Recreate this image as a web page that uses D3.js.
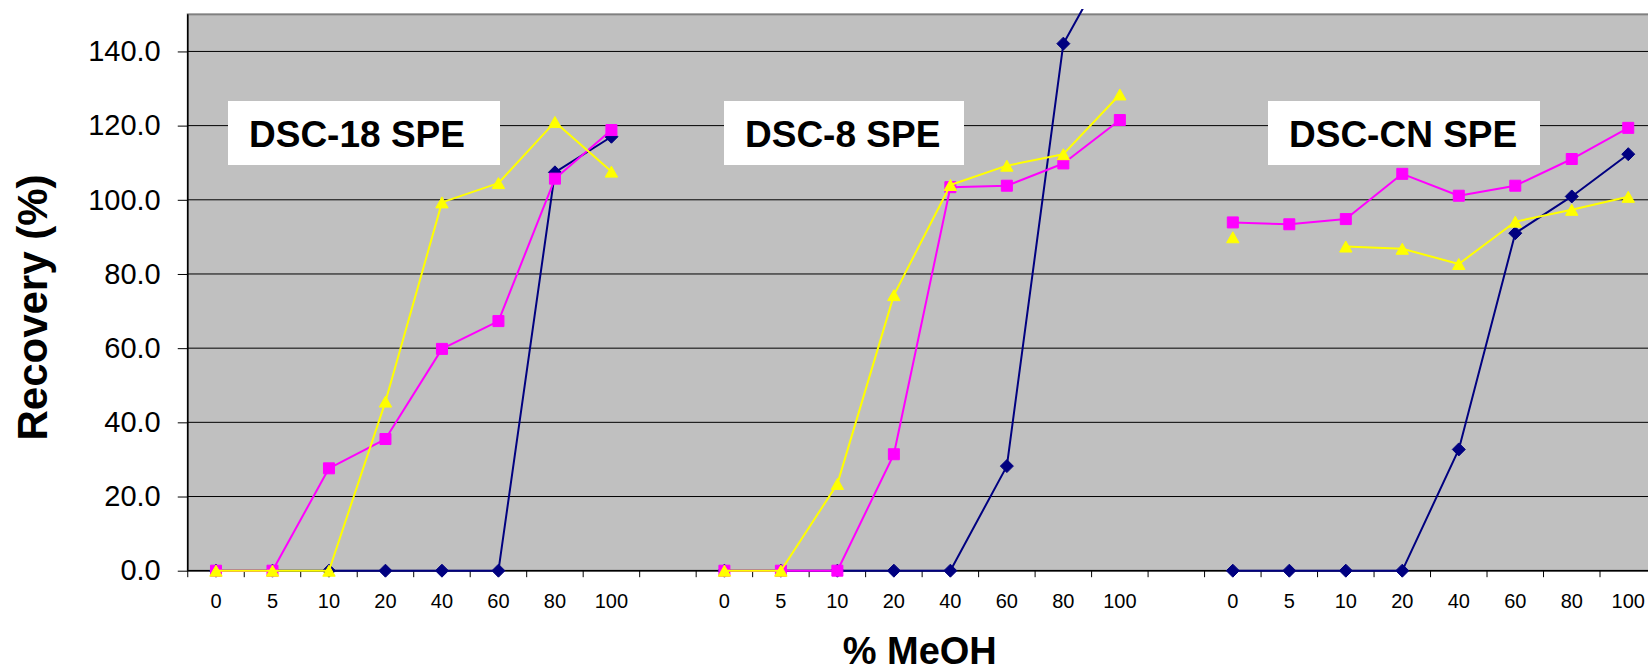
<!DOCTYPE html>
<html>
<head>
<meta charset="utf-8">
<script src="https://cdn.jsdelivr.net/npm/d3@7"></script>
<style>
  html, body { margin: 0; padding: 0; background: #fff; }
  svg { display: block; font-family: "Liberation Sans", Arial, sans-serif; }
</style>
</head>
<body>
<svg id="chart" width="1648" height="671"></svg>
<script>
// ---------- data ----------
const groups = ["DSC-18 SPE", "DSC-8 SPE", "DSC-CN SPE"];
const categories = ["0", "5", "10", "20", "40", "60", "80", "100"];
const yTicks = [0, 20, 40, 60, 80, 100, 120, 140];

// series 1 (navy diamonds)
const navyDSC18 = [0, 0, 0, 0, 0, 0, 107.4, 117.0];
const navyDSC8  = [0, 0, 0, 0, 0, 28.2, 142.1, 169.5];
const navyDSCCN = [0, 0, 0, 0, 32.7, 91.0, 100.9, 112.3];
// series 2 (magenta squares)
const magDSC18 = [0, 0, 27.6, 35.5, 59.8, 67.3, 105.7, 118.8];
const magDSC8  = [0, 0, 0, 31.4, 103.4, 103.8, 109.8, 121.5];
const magDSCCN = [93.9, 93.4, 94.8, 107.0, 101.1, 103.8, 111.0, 119.4];
// series 3 (yellow triangles)
const yelDSC18 = [0, 0, 0, 45.6, 99.3, 104.5, 121.0, 107.6];
const yelDSC8  = [0, 0, 23.4, 74.3, 104.0, 109.2, 112.3, 128.4];
const yelDSCCN = [89.9, null, 87.4, 86.8, 82.7, 94.1, 97.3, 100.8];

const seriesDefs = [
  { color: "#000080", marker: "diamond", groups: [navyDSC18, navyDSC8, navyDSCCN] },
  { color: "#FF00FF", marker: "square",  groups: [magDSC18, magDSC8, magDSCCN] },
  { color: "#FFFF00", marker: "triangle", groups: [yelDSC18, yelDSC8, yelDSCCN] }
];

// ---------- layout ----------
const svg = d3.select("#chart");
const plot = { left: 187.75, right: 1656.5, top: 14.35, bottom: 570.7 };

// category slots: 8 per group with one empty slot between groups
const slots = [];
groups.forEach((g, gi) => {
  categories.forEach((c, ci) => slots.push({ id: gi + "-" + ci, label: c }));
  if (gi < groups.length - 1) slots.push({ id: "gap" + gi, label: "" });
});

const x = d3.scaleBand().domain(slots.map(s => s.id)).range([plot.left, plot.right]).padding(0);
const y = d3.scaleLinear().domain([0, 150]).range([plot.bottom, plot.top]);

// plot area background
svg.append("rect")
  .attr("x", plot.left).attr("y", plot.top)
  .attr("width", plot.right - plot.left).attr("height", plot.bottom - plot.top)
  .attr("fill", "#C0C0C0").attr("stroke", "#808080").attr("stroke-width", 2);

// gridlines
svg.append("g").selectAll("line").data(yTicks.filter(v => v > 0)).join("line")
  .attr("x1", plot.left).attr("x2", plot.right)
  .attr("y1", d => y(d)).attr("y2", d => y(d))
  .attr("stroke", "#000").attr("stroke-width", 1);

// y axis
const yAxis = d3.axisLeft(y).tickValues(yTicks).tickFormat(d3.format(".1f")).tickSize(10).tickPadding(17);
const gy = svg.append("g").attr("transform", `translate(${plot.left},0)`).call(yAxis);
gy.select(".domain").attr("stroke", "#000").attr("stroke-width", 1.5)
  .attr("d", `M0,${plot.top}V${plot.bottom}`);
gy.selectAll(".tick line").attr("stroke", "#000");
gy.selectAll(".tick text").attr("font-size", 29).attr("fill", "#000")
  .attr("font-family", '"Liberation Sans", Arial, sans-serif');

// x axis: tick marks at slot boundaries, labels at slot centers
const gx = svg.append("g");
gx.append("line").attr("x1", plot.left).attr("x2", plot.right)
  .attr("y1", plot.bottom).attr("y2", plot.bottom).attr("stroke", "#000").attr("stroke-width", 1.5);
gx.selectAll("line.tk").data(slots).join("line").attr("class", "tk")
  .attr("x1", d => x(d.id)).attr("x2", d => x(d.id))
  .attr("y1", plot.bottom).attr("y2", plot.bottom + 6.5)
  .attr("stroke", "#000").attr("stroke-width", 1);
gx.selectAll("text").data(slots.filter(s => s.label !== "")).join("text")
  .attr("x", d => x(d.id) + x.bandwidth() / 2).attr("y", 608)
  .attr("text-anchor", "middle").attr("font-size", 20).attr("fill", "#000")
  .text(d => d.label);

// clip for series (lines may rise above plot into the chart area)
svg.append("clipPath").attr("id", "clipSeries").append("rect")
  .attr("x", 0).attr("y", 9).attr("width", 1648).attr("height", 662);

const markerPath = {
  diamond: "M0,-6.5L6.5,0L0,6.5L-6.5,0Z",
  square: "M-5.5,-5.5H5.5V5.5H-5.5Z",
  triangle: "M0,-5.5L6.2,5.5H-6.2Z"
};

const seriesG = svg.append("g").attr("clip-path", "url(#clipSeries)");
seriesDefs.forEach(s => {
  const g = seriesG.append("g");
  s.groups.forEach((vals, gi) => {
    const pts = vals.map((v, ci) => ({ id: gi + "-" + ci, v }));
    const line = d3.line()
      .defined(d => d.v !== null)
      .x(d => x(d.id) + x.bandwidth() / 2)
      .y(d => y(d.v));
    g.append("path").datum(pts).attr("d", line)
      .attr("fill", "none").attr("stroke", s.color).attr("stroke-width", 2)
      .attr("stroke-linejoin", "round");
    g.selectAll(null).data(pts.filter(d => d.v !== null)).join("path")
      .attr("transform", d => `translate(${x(d.id) + x.bandwidth() / 2},${y(d.v)})`)
      .attr("d", markerPath[s.marker])
      .attr("fill", s.color).attr("stroke", s.color).attr("stroke-width", 1);
  });
});

// group label boxes
const boxes = [
  { x: 228, w: 272 },
  { x: 724, w: 240 },
  { x: 1268, w: 272 }
];
groups.forEach((name, i) => {
  const b = boxes[i];
  svg.append("rect").attr("x", b.x).attr("y", 101).attr("width", b.w).attr("height", 64)
    .attr("fill", "#fff");
  svg.append("text").attr("x", b.x + 21).attr("y", 146.7)
    .attr("font-size", 37).attr("font-weight", "bold").attr("fill", "#000")
    .text(name);
});

// axis titles
svg.append("text")
  .attr("transform", "translate(47,307.5) rotate(-90)")
  .attr("text-anchor", "middle").attr("font-size", 42).attr("font-weight", "bold")
  .text("Recovery (%)");
svg.append("text")
  .attr("x", 919.7).attr("y", 664)
  .attr("text-anchor", "middle").attr("font-size", 38).attr("font-weight", "bold")
  .text("% MeOH");
</script>
</body>
</html>
